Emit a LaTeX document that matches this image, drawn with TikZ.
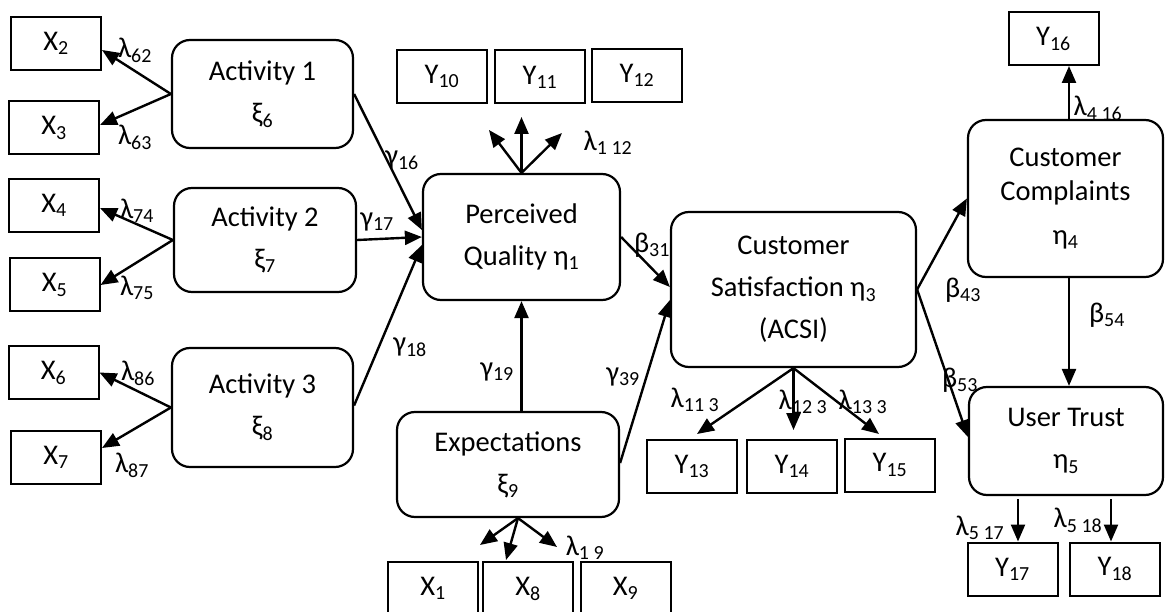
\documentclass[tikz,border=0pt]{standalone}
\usepackage{fontspec}
\setmainfont{Carlito}
\usetikzlibrary{arrows.meta}

\begin{document}
\begin{tikzpicture}[x=1pt,y=-1pt,
  every node/.style={font=\fontsize{28.5}{42}\selectfont},
  ind/.style={draw, line width=2pt, minimum width=90pt, minimum height=53pt, inner sep=0pt},
  lat/.style={draw, line width=2.2pt, rounded corners=18pt, align=center, inner sep=0pt},
  arr/.style={line width=2.4pt, -{Triangle[length=17pt,width=14pt]}},
  lbl/.style={inner sep=0pt}
]
\useasboundingbox (0,0) rectangle (1165,612);
\clip (0,0) rectangle (1165,612);

% latent variables
\node[lat, minimum width=181pt, minimum height=108pt] (A1) at (262.5,94) {Activity 1\\ξ\textsubscript{6}};
\node[lat, minimum width=182pt, minimum height=104pt] (A2) at (265,240) {Activity 2\\ξ\textsubscript{7}};
\node[lat, minimum width=181pt, minimum height=119pt] (A3) at (262.5,407.5) {Activity 3\\ξ\textsubscript{8}};
\node[lat, minimum width=197pt, minimum height=126pt] (PQ) at (521.5,237) {\raisebox{5pt}{Perceived}\\\raisebox{5pt}{Quality η\textsubscript{1}}};
\node[lat, minimum width=222pt, minimum height=105pt] (E) at (508,464.5) {Expectations\\ξ\textsubscript{9}};
\node[lat, minimum width=245pt, minimum height=155pt] (CS) at (793.5,289.5) {Customer\\Satisfaction η\textsubscript{3}\\(ACSI)};
\node[lat, minimum width=195pt, minimum height=157pt] (CC) at (1065.5,198.5) {\raisebox{-5pt}{Customer}\\[-8pt]\raisebox{-5pt}{Complaints}\\[3pt]\raisebox{-4pt}{η\textsubscript{4}}};
\node[lat, minimum width=194pt, minimum height=108pt] (UT) at (1066,441) {User Trust\\η\textsubscript{5}};

% indicators
\node[ind] (X2) at (56,43.5) {X\textsubscript{2}};
\node[ind] (X3) at (54,128) {X\textsubscript{3}};
\node[ind] (X4) at (54,205.5) {X\textsubscript{4}};
\node[ind] (X5) at (54.5,285) {X\textsubscript{5}};
\node[ind] (X6) at (53.5,372.5) {X\textsubscript{6}};
\node[ind] (X7) at (56,457.5) {X\textsubscript{7}};
\node[ind] (Y10) at (442,76.5) {Y\textsubscript{10}};
\node[ind] (Y11) at (540,77) {Y\textsubscript{11}};
\node[ind] (Y12) at (637,75.5) {Y\textsubscript{12}};
\node[ind] (X1) at (433,588.5) {X\textsubscript{1}};
\node[ind] (X8) at (528,588.5) {X\textsubscript{8}};
\node[ind] (X9) at (625.5,588.5) {X\textsubscript{9}};
\node[ind] (Y13) at (692,466.5) {Y\textsubscript{13}};
\node[ind] (Y14) at (792,466.5) {Y\textsubscript{14}};
\node[ind] (Y15) at (890,465) {Y\textsubscript{15}};
\node[ind] (Y16) at (1053.5,38.5) {Y\textsubscript{16}};
\node[ind] (Y17) at (1012.5,569) {Y\textsubscript{17}};
\node[ind] (Y18) at (1115,569) {Y\textsubscript{18}};

% free ends of the fan-out loadings
\coordinate (pq1) at (489,130);
\coordinate (pq2) at (521.5,117);
\coordinate (pq3) at (562,133);
\coordinate (ex1) at (480,545);
\coordinate (ex2) at (506,560);
\coordinate (ex3) at (557,547);
\coordinate (cs1) at (697,434);
\coordinate (cs2) at (793.5,430);
\coordinate (cs3) at (879,434);

% measurement loadings of the activities
\draw[arr] (A1.west) -- ([yshift=-6.5pt]X2.east);
\draw[arr] (A1.west) -- ([yshift=3pt]X3.east);
\draw[arr] (A2.west) -- ([yshift=-2.5pt]X4.east);
\draw[arr] (A2.west) -- (X5.east);
\draw[arr] (A3.west) -- (X6.east);
\draw[arr] (A3.west) -- ([yshift=9.5pt]X7.east);

% structural paths
\draw[arr] (A1.east) -- ([yshift=7pt]PQ.west);
\draw[arr] (A2.east) -- (PQ.west);
\draw[arr] ([yshift=2pt]A3.east) -- ([yshift=-8pt]PQ.west);
\draw[arr] (E.north -| PQ.south) -- (PQ.south);
\draw[arr] ([yshift=1.5pt]E.east) -- ([yshift=-10.5pt]CS.west);
\draw[arr] (PQ.east) -- ([yshift=2.5pt]CS.west);
\draw[arr] (CS.east) -- (CC.west);
\draw[arr] (CS.east) -- ([yshift=4pt]UT.west);
\draw[arr] ([xshift=3.5pt]CC.south) -- ([xshift=3pt]UT.north);

% loadings of the endogenous variables
\draw[arr] (PQ.north) -- (pq1);
\draw[arr] (PQ.north) -- (pq2);
\draw[arr] (PQ.north) -- (pq3);
\draw[arr] ([xshift=10pt]E.south) -- (ex1);
\draw[arr] ([xshift=10pt]E.south) -- (ex2);
\draw[arr] ([xshift=10pt]E.south) -- (ex3);
\draw[arr] (CS.south) -- (cs1);
\draw[arr] (CS.south) -- (cs2);
\draw[arr] (CS.south) -- (cs3);
\draw[arr] ([xshift=3.5pt]CC.north) -- ([xshift=15.5pt]Y16.south);
\draw[arr] ([xshift=-48pt,yshift=-3pt]UT.south) -- ([xshift=5.5pt]Y17.north);
\draw[arr] ([xshift=45pt,yshift=-3pt]UT.south) -- ([xshift=-4pt]Y18.north);

% coefficient labels
\node[lbl] (l62) at (135,50) {λ\textsubscript{62}};
\node[lbl] (l63) at (135,137) {λ\textsubscript{63}};
\node[lbl] (l74) at (137,211) {λ\textsubscript{74}};
\node[lbl] (l75) at (137,288) {λ\textsubscript{75}};
\node[lbl] (l86) at (138,373) {λ\textsubscript{86}};
\node[lbl] (l87) at (132,465) {λ\textsubscript{87}};
\node[lbl] (g16) at (402,160) {γ\textsubscript{16}};
\node[lbl] (g17) at (377,222) {γ\textsubscript{17}};
\node[lbl] (g18) at (410,347) {γ\textsubscript{18}};
\node[lbl] (g19) at (497,372) {γ\textsubscript{19}};
\node[lbl] (g39) at (623,377) {γ\textsubscript{39}};
\node[lbl] (l112) at (608,143) {λ\textsubscript{1 12}};
\node[lbl] (l19) at (585,548) {λ\textsubscript{1 9}};
\node[lbl] (b31) at (652,245) {β\textsubscript{31}};
\node[lbl] (l113) at (695,400) {λ\textsubscript{11 3}};
\node[lbl] (l123) at (803,402) {λ\textsubscript{12 3}};
\node[lbl] (l133) at (863,402) {λ\textsubscript{13 3}};
\node[lbl] (b43) at (963,290) {β\textsubscript{43}};
\node[lbl] (b53) at (960,380) {β\textsubscript{53}};
\node[lbl] (b54) at (1107,315) {β\textsubscript{54}};
\node[lbl] (l416) at (1098,108) {λ\textsubscript{4 16}};
\node[lbl] (l517) at (980,528) {λ\textsubscript{5 17}};
\node[lbl] (l518) at (1078,520) {λ\textsubscript{5 18}};
\end{tikzpicture}
\end{document}
